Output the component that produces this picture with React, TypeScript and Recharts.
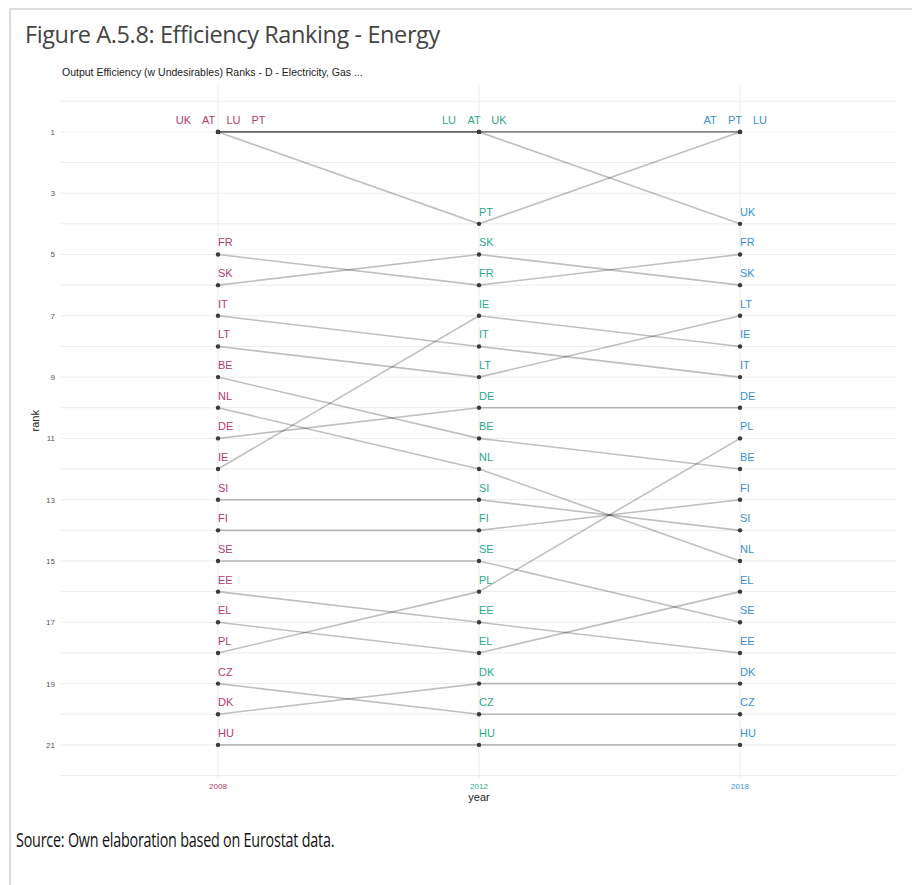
import { CartesianGrid, Line, LineChart, XAxis, YAxis } from "recharts";

const years = ["2008", "2012", "2018"];

// countries in ranked order for each year (ties left-to-right as printed)
const order2008 = ["UK", "AT", "LU", "PT", "FR", "SK", "IT", "LT", "BE", "NL", "DE", "IE", "SI", "FI", "SE", "EE", "EL", "PL", "CZ", "DK", "HU"];
const ranks2008 = [1, 1, 1, 1, 5, 6, 7, 8, 9, 10, 11, 12, 13, 14, 15, 16, 17, 18, 19, 20, 21];

const order2012 = ["LU", "AT", "UK", "PT", "SK", "FR", "IE", "IT", "LT", "DE", "BE", "NL", "SI", "FI", "SE", "PL", "EE", "EL", "DK", "CZ", "HU"];
const ranks2012 = [1, 1, 1, 4, 5, 6, 7, 8, 9, 10, 11, 12, 13, 14, 15, 16, 17, 18, 19, 20, 21];

const order2018 = ["AT", "PT", "LU", "UK", "FR", "SK", "LT", "IE", "IT", "DE", "PL", "BE", "FI", "SI", "NL", "EL", "SE", "EE", "DK", "CZ", "HU"];
const ranks2018 = [1, 1, 1, 4, 5, 6, 7, 8, 9, 10, 11, 12, 13, 14, 15, 16, 17, 18, 19, 20, 21];

const rankTicks = [1, 3, 5, 7, 9, 11, 13, 15, 17, 19, 21];

const orders = [order2008, order2012, order2018];
const ranks = [ranks2008, ranks2012, ranks2018];
const yearColors = ["#b23c70", "#2ea88a", "#3b8fd1"];

const countries = order2008;
const gridTicks = Array.from({ length: 23 }, (_, i) => i);

const data = years.map((year, i) => {
  const row: Record<string, string | number> = { year };
  orders[i].forEach((c, j) => {
    row[c] = ranks[i][j];
  });
  return row;
});

const font = "'Liberation Sans', Arial, sans-serif";

function CountryLabel(props: any) {
  const { x, y, index, country } = props;
  if (x == null || y == null) return null;
  const r = data[index][country];
  const group = orders[index].filter((c) => data[index][c] === r);
  const n = group.length;
  const fill = yearColors[index];
  if (n > 1) {
    // tied labels are spread side by side above the shared point
    const k = group.indexOf(country);
    const shift = n === 4 ? 3 : -5;
    return (
      <text x={x + (k - (n - 1) / 2) * 25 + shift} y={y - 8} textAnchor="middle" fontSize={11} fill={fill} fontFamily={font}>
        {country}
      </text>
    );
  }
  return (
    <text x={x} y={y - 8} textAnchor="start" fontSize={11} fill={fill} fontFamily={font}>
      {country}
    </text>
  );
}

function YearTick(props: any) {
  const { x, y, payload, index } = props;
  return (
    <text x={x} y={y + 3} textAnchor="middle" fontSize={8} fill={yearColors[index]} fontFamily={font}>
      {payload.value}
    </text>
  );
}

function RankTick(props: any) {
  const { x, y, payload } = props;
  if (!rankTicks.includes(payload.value)) return null;
  return (
    <text x={x + 6} y={y + 3} textAnchor="end" fontSize={8} fill="#555" fontFamily={font}>
      {payload.value}
    </text>
  );
}

export default function App() {
  return (
    <div style={{ position: "absolute", left: 0, top: 0, width: 912, height: 885, background: "#fff", overflow: "hidden" }}>
      <div style={{ position: "absolute", left: 9, top: 8, width: 920, height: 900, borderTop: "2px solid #dcdcdc", borderLeft: "2px solid #dcdcdc" }} />
      <div style={{ position: "absolute", left: 25, top: 18, fontFamily: "'Open Sans', sans-serif", fontSize: 23.5, color: "#444", letterSpacing: -0.4, whiteSpace: "nowrap" }}>
        Figure A.5.8: Efficiency Ranking - Energy
      </div>
      <div style={{ position: "absolute", left: 62, top: 66, fontFamily: font, fontSize: 10.5, color: "#222", whiteSpace: "nowrap" }}>
        Output Efficiency (w Undesirables) Ranks - D - Electricity, Gas ...
      </div>
      <div style={{ position: "absolute", left: 0, top: 0 }}>
        <LineChart width={912} height={885} data={data} margin={{ top: 85, right: 15, bottom: 77, left: 0 }}>
          <CartesianGrid stroke="#ececec" strokeWidth={1} horizontalValues={gridTicks} verticalValues={years} />
          <XAxis
            dataKey="year"
            padding={{ left: 157, right: 157 }}
            axisLine={false}
            tickLine={false}
            height={30}
            tick={<YearTick />}
            label={{ value: "year", position: "insideBottom", offset: 7, fontSize: 11, fill: "#222", fontFamily: font }}
          />
          <YAxis
            type="number"
            reversed
            domain={[-0.53, 22.08]}
            allowDataOverflow
            ticks={gridTicks}
            interval={0}
            width={61}
            axisLine={false}
            tickLine={false}
            tick={<RankTick />}
            tickMargin={6}
            label={{ value: "rank", angle: -90, position: "insideLeft", offset: 35, fontSize: 11, fill: "#222", fontFamily: font }}
          />
          {countries.map((c) => (
            <Line
              key={c}
              type="linear"
              dataKey={c}
              stroke="rgba(0,0,0,0.25)"
              strokeWidth={1.6}
              dot={{ r: 2.2, fill: "#3a3a3a", stroke: "none" }}
              activeDot={false}
              isAnimationActive={false}
              label={(p: any) => <CountryLabel {...p} country={c} />}
            />
          ))}
        </LineChart>
      </div>
      <div style={{ position: "absolute", left: 16, top: 825, fontFamily: "'Open Sans', sans-serif", fontSize: 20.5, color: "#111", letterSpacing: -0.3, whiteSpace: "nowrap", transform: "scaleX(0.7)", transformOrigin: "left top" }}>
        Source: Own elaboration based on Eurostat data.
      </div>
    </div>
  );
}
